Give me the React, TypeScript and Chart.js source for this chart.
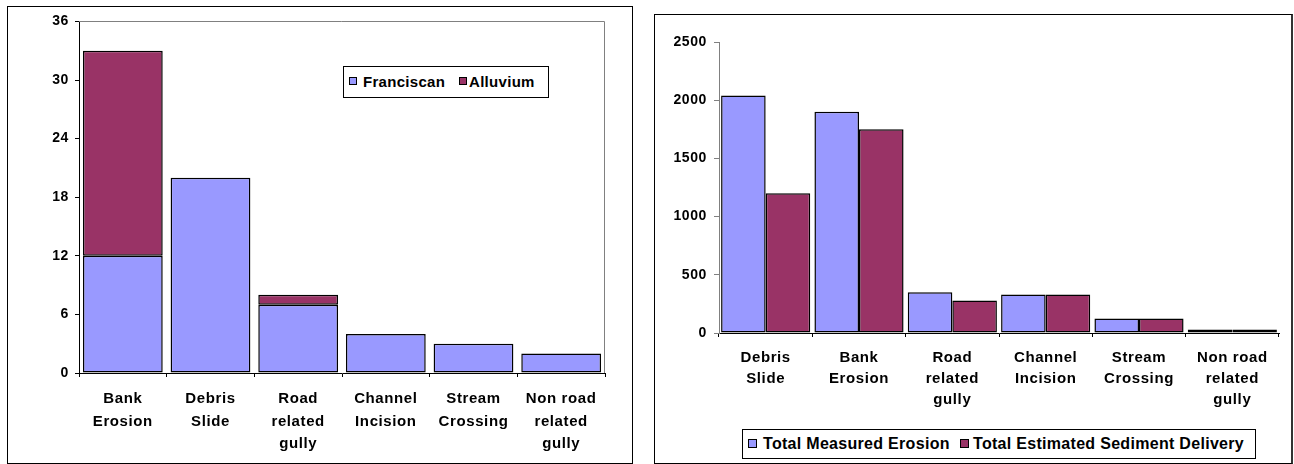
import React, { useEffect, useRef } from "react";
import { Chart, registerables } from "chart.js";

Chart.register(...registerables);

// ---------- data ----------
const leftCategories = [
  ["Bank", "Erosion"],
  ["Debris", "Slide"],
  ["Road", "related", "gully"],
  ["Channel", "Incision"],
  ["Stream", "Crossing"],
  ["Non road", "related", "gully"],
];
const franciscan = [12, 20, 7, 4, 3, 2];
const alluvium = [21, 0, 1, 0, 0, 0];
const leftTicks = [0, 6, 12, 18, 24, 30, 36];

const rightCategories = [
  ["Debris", "Slide"],
  ["Bank", "Erosion"],
  ["Road", "related", "gully"],
  ["Channel", "Incision"],
  ["Stream", "Crossing"],
  ["Non road", "related", "gully"],
];
const measuredErosion = [2040, 1900, 350, 330, 125, 30];
const sedimentDelivery = [1200, 1750, 280, 330, 125, 30];
const rightTicks = [0, 500, 1000, 1500, 2000, 2500];

const leftSeriesNames = ["Franciscan", "Alluvium"];
const rightSeriesNames = ["Total Measured Erosion", "Total Estimated Sediment Delivery"];

// ---------- styles ----------
const BLUE = "#9999FF";
const MAROON = "#993366";
const FONT = "'Liberation Sans', Arial, sans-serif";
const BAR_BORDER = 1.5;

const spacingPlugin = {
  id: "spacing",
  beforeUpdate(chart: any) {
    chart.ctx.letterSpacing = "0.6px";
  },
  beforeDraw(chart: any) {
    chart.ctx.letterSpacing = "0.6px";
  },
};

const plotFramePlugin = {
  id: "plotFrame",
  beforeDatasetsDraw(chart: any) {
    const { ctx, chartArea: a } = chart;
    ctx.save();
    ctx.strokeStyle = "#808080";
    ctx.lineWidth = 1;
    ctx.beginPath();
    ctx.moveTo(a.left, Math.round(a.top) + 0.5);
    ctx.lineTo(Math.round(a.right) - 0.5, Math.round(a.top) + 0.5);
    ctx.lineTo(Math.round(a.right) - 0.5, a.bottom);
    ctx.stroke();
    ctx.restore();
  },
};

function makeTicks(values: number[]) {
  return (s: any) => {
    s.ticks = values.map((v) => ({ value: v }));
  };
}

const plainNumber = (v: any) => String(v);

function leftConfig(): any {
  return {
    type: "bar",
    data: {
      labels: leftCategories,
      datasets: [
        {
          label: leftSeriesNames[0],
          data: franciscan,
          backgroundColor: BLUE,
          borderColor: "#000",
          borderWidth: BAR_BORDER,
          borderSkipped: false,
        },
        {
          label: leftSeriesNames[1],
          data: alluvium,
          backgroundColor: MAROON,
          borderColor: "#000",
          borderWidth: (c: any) => (c.raw ? BAR_BORDER : 0),
          borderSkipped: false,
        },
      ],
    },
    options: {
      responsive: false,
      animation: false,
      layout: { padding: { left: 0, top: 13, right: 27, bottom: 0 } },
      plugins: { legend: { display: false }, tooltip: { enabled: false } },
      datasets: { bar: { categoryPercentage: 1, barPercentage: 0.91 } },
      scales: {
        x: {
          stacked: true,
          grid: { drawOnChartArea: false, tickLength: 4, color: "#000", offset: true },
          border: { color: "#000", width: 1 },
          ticks: {
            color: "#000",
            font: { family: FONT, size: 15, weight: "bold", lineHeight: 1.5 },
            padding: 11,
            maxRotation: 0,
            autoSkip: false,
          },
          afterFit: (s: any) => {
            s.height = 90;
          },
        },
        y: {
          stacked: true,
          min: 0,
          max: 36,
          grid: { drawOnChartArea: false, tickLength: 4, color: "#000" },
          border: { color: "#000", width: 1 },
          ticks: {
            color: "#000",
            font: { family: FONT, size: 14, weight: "bold" },
            padding: 6,
            callback: plainNumber,
          },
          afterBuildTicks: makeTicks(leftTicks),
          afterFit: (s: any) => {
            s.width = 71;
          },
        },
      },
    },
    plugins: [spacingPlugin, plotFramePlugin],
  };
}

function rightConfig(): any {
  return {
    type: "bar",
    data: {
      labels: rightCategories,
      datasets: [
        {
          label: rightSeriesNames[0],
          data: measuredErosion,
          backgroundColor: BLUE,
          borderColor: "#000",
          borderWidth: BAR_BORDER,
          borderSkipped: false,
        },
        {
          label: rightSeriesNames[1],
          data: sedimentDelivery,
          backgroundColor: MAROON,
          borderColor: "#000",
          borderWidth: BAR_BORDER,
          borderSkipped: false,
        },
      ],
    },
    options: {
      responsive: false,
      animation: false,
      layout: { padding: { left: 0, top: 27, right: 12, bottom: 0 } },
      plugins: { legend: { display: false }, tooltip: { enabled: false } },
      datasets: { bar: { categoryPercentage: 0.955, barPercentage: 1 } },
      scales: {
        x: {
          grid: { drawOnChartArea: false, tickLength: 4, color: "#000", offset: true },
          border: { color: "#000", width: 1 },
          ticks: {
            color: "#000",
            font: { family: FONT, size: 15, weight: "bold", lineHeight: 1.4 },
            padding: 10,
            maxRotation: 0,
            autoSkip: false,
          },
          afterFit: (s: any) => {
            s.height = 130;
          },
        },
        y: {
          min: 0,
          max: 2500,
          grid: { drawOnChartArea: false, tickLength: 5, color: "#808080" },
          border: { color: "#808080", width: 1 },
          ticks: {
            color: "#000",
            font: { family: FONT, size: 14, weight: "bold" },
            padding: 7,
            callback: plainNumber,
          },
          afterBuildTicks: makeTicks(rightTicks),
          afterFit: (s: any) => {
            s.width = 64;
          },
        },
      },
    },
    plugins: [spacingPlugin],
  };
}

function ChartCanvas({ make, width, height }: { make: () => any; width: number; height: number }) {
  const ref = useRef<HTMLCanvasElement>(null);
  useEffect(() => {
    const chart = new Chart(ref.current as HTMLCanvasElement, make());
    return () => chart.destroy();
  }, []);
  return (
    <canvas
      ref={ref}
      width={width}
      height={height}
      style={{ position: "absolute", left: 0, top: 0, width, height }}
    />
  );
}

const swatch = (left: number, top: number, size: number, color: string): React.CSSProperties => ({
  position: "absolute",
  left,
  top,
  width: size,
  height: size,
  boxSizing: "border-box",
  border: "1px solid #000",
  background: color,
});

const legendText = (left: number, lh: number, size: number): React.CSSProperties => ({
  position: "absolute",
  left,
  top: 0,
  lineHeight: lh + "px",
  fontFamily: FONT,
  fontWeight: "bold",
  fontSize: size,
  letterSpacing: "0.3px",
  color: "#000",
  whiteSpace: "nowrap",
});

export default function App() {
  useEffect(() => {
    document.body.style.margin = "0";
  }, []);
  return (
    <div
      style={{
        position: "fixed",
        left: 0,
        top: 0,
        width: 1294,
        height: 464,
        background: "#fff",
        overflow: "hidden",
      }}
    >
      {/* Left chart */}
      <div
        style={{
          position: "absolute",
          left: 7,
          top: 6,
          width: 626,
          height: 458,
          boxSizing: "border-box",
          border: "1px solid #000",
        }}
      >
        <ChartCanvas make={leftConfig} width={624} height={456} />
        <div
          style={{
            position: "absolute",
            left: 343 - 8,
            top: 66 - 7,
            width: 206,
            height: 32,
            boxSizing: "border-box",
            border: "1px solid #000",
            background: "#fff",
          }}
        >
          <div style={swatch(5, 10, 8, BLUE)} />
          <span style={legendText(19, 30, 15)}>{leftSeriesNames[0]}</span>
          <div style={swatch(115, 10, 8, MAROON)} />
          <span style={legendText(125, 30, 15)}>{leftSeriesNames[1]}</span>
        </div>
      </div>

      {/* Right chart */}
      <div
        style={{
          position: "absolute",
          left: 654,
          top: 14,
          width: 639,
          height: 450,
          boxSizing: "border-box",
          borderTop: "1px solid #000",
          borderLeft: "1px solid #000",
          borderBottom: "1px solid #000",
          borderRight: "2px solid #333",
        }}
      >
        <ChartCanvas make={rightConfig} width={636} height={448} />
        <div
          style={{
            position: "absolute",
            left: 742 - 655,
            top: 429 - 15,
            width: 514,
            height: 30,
            boxSizing: "border-box",
            border: "1px solid #000",
            background: "#fff",
          }}
        >
          <div style={swatch(5, 9, 9, BLUE)} />
          <span style={legendText(20, 28, 16)}>{rightSeriesNames[0]}</span>
          <div style={swatch(217, 9, 9, MAROON)} />
          <span style={legendText(230, 28, 16)}>{rightSeriesNames[1]}</span>
        </div>
      </div>
    </div>
  );
}
